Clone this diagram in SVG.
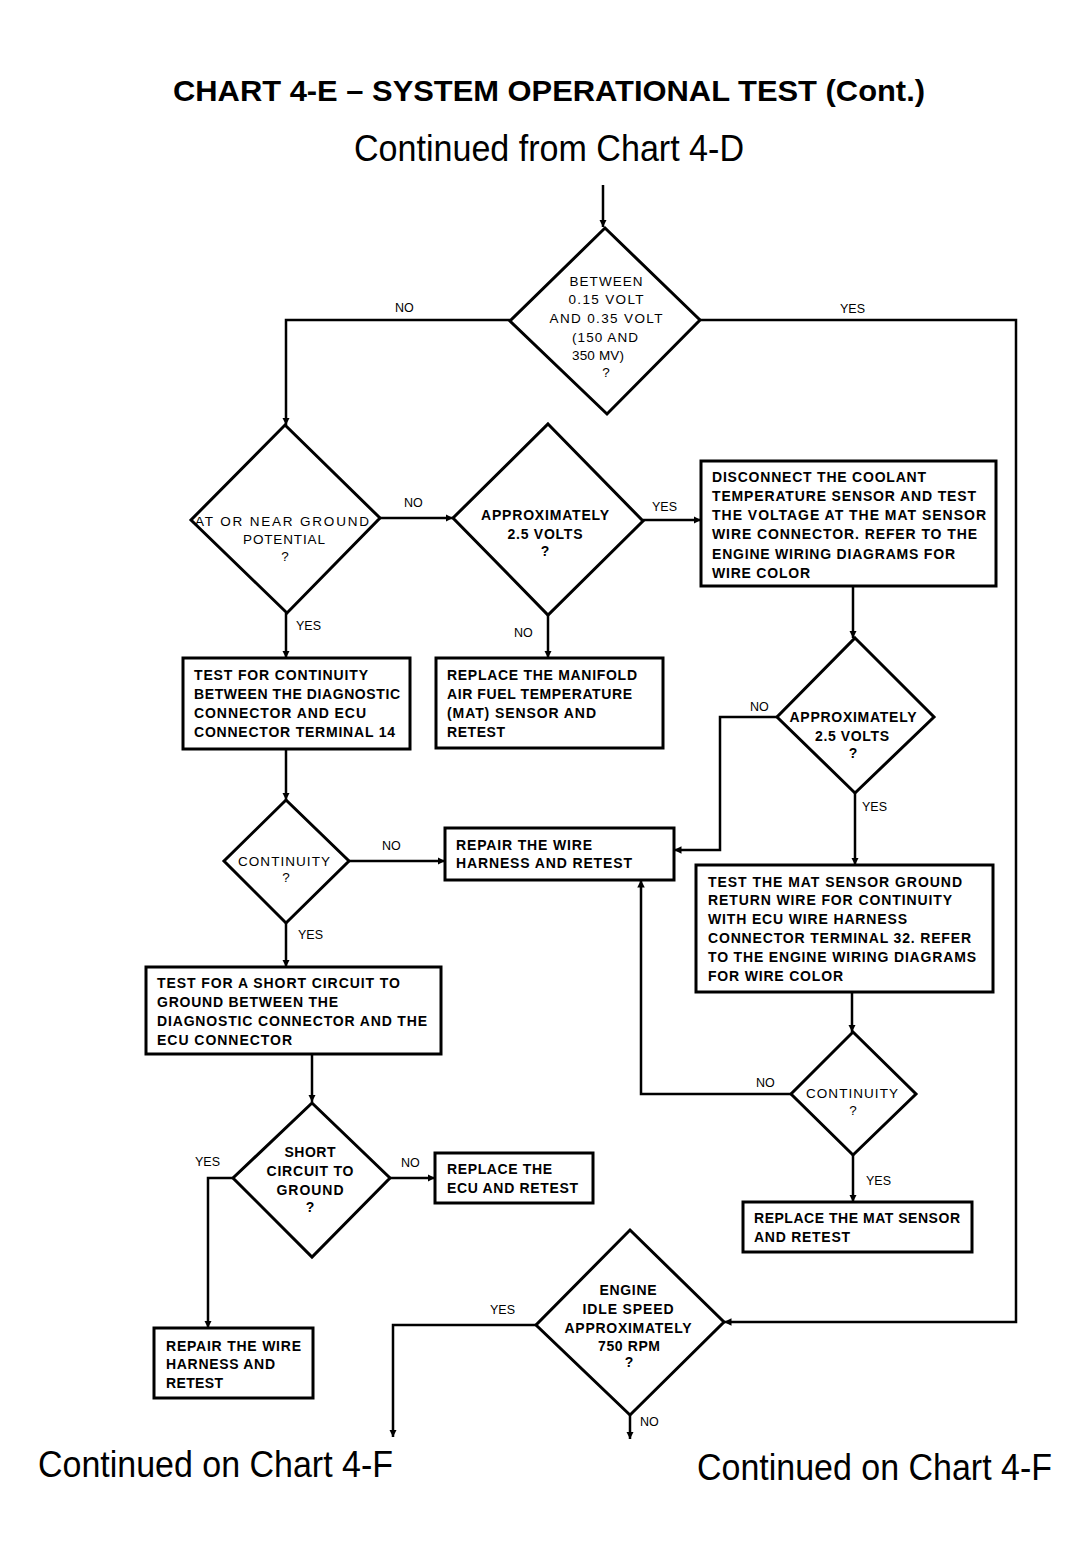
<svg xmlns="http://www.w3.org/2000/svg" width="1088" height="1556" viewBox="0 0 1088 1556">
<style>
.bg{fill:#fff}
.box{fill:#fff;stroke:#000;stroke-width:3}
.dia{fill:#fff;stroke:#000;stroke-width:3;stroke-linejoin:miter}
.ln{fill:none;stroke:#000;stroke-width:2.5;marker-end:url(#ah)}
.bt{font-family:"Liberation Sans",Arial,sans-serif;font-size:14px;font-weight:bold;fill:#000}
.dt{font-family:"Liberation Sans",Arial,sans-serif;font-size:13.5px;fill:#000;text-anchor:middle}
.dtb{font-family:"Liberation Sans",Arial,sans-serif;font-size:14px;font-weight:bold;fill:#000;text-anchor:middle}
.lb{font-family:"Liberation Sans",Arial,sans-serif;font-size:12.5px;fill:#000}
.big{font-family:"Liberation Sans",Arial,sans-serif;font-size:36px;fill:#000}
.ttl{font-family:"Liberation Sans",Arial,sans-serif;font-size:30px;font-weight:bold;fill:#000}
</style>
<defs>
<marker id="ah" viewBox="0 0 10 10" refX="10" refY="5" markerWidth="3" markerHeight="3" orient="auto" markerUnits="strokeWidth">
<path d="M0,0 L10,5 L0,10 z" fill="#000"/>
</marker>
</defs>
<rect class="bg" x="0" y="0" width="1088" height="1556"/>

<g id="title">
<text class="ttl" x="173" y="101" textLength="752" lengthAdjust="spacingAndGlyphs">CHART 4-E  –  SYSTEM OPERATIONAL TEST (Cont.)</text>
<text class="big" x="354" y="161" textLength="390" lengthAdjust="spacingAndGlyphs">Continued from Chart 4-D</text>
</g>

<g id="connectors">
<path class="ln" d="M603 185 V227"/>
<path class="ln" d="M510 320 H286 V425"/>
<path class="ln" d="M700 320 H1016 V1322 H724"/>
<path class="ln" d="M380 518 H453"/>
<path class="ln" d="M286 613 V658"/>
<path class="ln" d="M643 520 H701"/>
<path class="ln" d="M548 615 V658"/>
<path class="ln" d="M286 749 V800"/>
<path class="ln" d="M853 586 V638"/>
<path class="ln" d="M777 717 H720 V850 H674"/>
<path class="ln" d="M855 793 V865"/>
<path class="ln" d="M349 861 H445"/>
<path class="ln" d="M286 923 V967"/>
<path class="ln" d="M312 1054 V1102"/>
<path class="ln" d="M233 1178 H208 V1328"/>
<path class="ln" d="M390 1178 H435"/>
<path class="ln" d="M852 992 V1032"/>
<path class="ln" d="M791 1094 H641 V880"/>
<path class="ln" d="M853 1155 V1202"/>
<path class="ln" d="M536 1325 H393 V1437"/>
<path class="ln" d="M630 1415 V1439"/>
<text class="lb" x="395" y="312">NO</text>
<text class="lb" x="840" y="313">YES</text>
<text class="lb" x="404" y="507">NO</text>
<text class="lb" x="296" y="630">YES</text>
<text class="lb" x="652" y="511">YES</text>
<text class="lb" x="514" y="637">NO</text>
<text class="lb" x="750" y="711">NO</text>
<text class="lb" x="862" y="811">YES</text>
<text class="lb" x="382" y="850">NO</text>
<text class="lb" x="298" y="939">YES</text>
<text class="lb" x="195" y="1166">YES</text>
<text class="lb" x="401" y="1167">NO</text>
<text class="lb" x="756" y="1087">NO</text>
<text class="lb" x="866" y="1185">YES</text>
<text class="lb" x="490" y="1314">YES</text>
<text class="lb" x="640" y="1426">NO</text>
</g>

<g id="d1">
<polygon class="dia" points="605,228 700,320 607,414 510,321"/>
<text class="dt" x="606" y="286" textLength="73">BETWEEN</text>
<text class="dt" x="606" y="304" textLength="75">0.15 VOLT</text>
<text class="dt" x="606" y="323" textLength="113">AND 0.35 VOLT</text>
<text class="dt" x="605" y="342" textLength="66">(150 AND</text>
<text class="dt" x="598" y="360" textLength="52">350 MV)</text>
<text class="dt" x="606" y="377">?</text>
</g>

<g id="d2">
<polygon class="dia" points="285,425 380,518 287,613 191,520"/>
<text class="dt" x="282" y="526" textLength="174">AT OR NEAR GROUND</text>
<text class="dt" x="284" y="544" textLength="82">POTENTIAL</text>
<text class="dt" x="285" y="561">?</text>
</g>

<g id="d3">
<polygon class="dia" points="548,424 643,521 548,615 453,518"/>
<text class="dtb" x="545" y="520" textLength="128">APPROXIMATELY</text>
<text class="dtb" x="545" y="539" textLength="75">2.5 VOLTS</text>
<text class="dtb" x="545" y="556">?</text>
</g>

<g id="b_disconnect">
<rect class="box" x="701" y="461" width="295" height="125"/>
<text class="bt" x="712" y="482" textLength="214">DISCONNECT THE COOLANT</text>
<text class="bt" x="712" y="501" textLength="264">TEMPERATURE SENSOR AND TEST</text>
<text class="bt" x="712" y="520" textLength="274">THE VOLTAGE AT THE MAT SENSOR</text>
<text class="bt" x="712" y="539" textLength="265">WIRE CONNECTOR. REFER TO THE</text>
<text class="bt" x="712" y="559" textLength="243">ENGINE WIRING DIAGRAMS FOR</text>
<text class="bt" x="712" y="578" textLength="98">WIRE COLOR</text>
</g>

<g id="b_test_cont">
<rect class="box" x="183" y="658" width="227" height="91"/>
<text class="bt" x="194" y="680" textLength="174">TEST FOR CONTINUITY</text>
<text class="bt" x="194" y="699" textLength="206">BETWEEN THE DIAGNOSTIC</text>
<text class="bt" x="194" y="718" textLength="172">CONNECTOR AND ECU</text>
<text class="bt" x="194" y="737" textLength="201">CONNECTOR TERMINAL 14</text>
</g>

<g id="b_replace_mat_manifold">
<rect class="box" x="436" y="658" width="227" height="90"/>
<text class="bt" x="447" y="680" textLength="190">REPLACE THE MANIFOLD</text>
<text class="bt" x="447" y="699" textLength="185">AIR FUEL TEMPERATURE</text>
<text class="bt" x="447" y="718" textLength="149">(MAT) SENSOR AND</text>
<text class="bt" x="447" y="737" textLength="58">RETEST</text>
</g>

<g id="d4">
<polygon class="dia" points="855,638 934,717 855,793 777,717"/>
<text class="dtb" x="853" y="722" textLength="127">APPROXIMATELY</text>
<text class="dtb" x="852" y="741" textLength="74">2.5 VOLTS</text>
<text class="dtb" x="853" y="758">?</text>
</g>

<g id="d_cont1">
<polygon class="dia" points="286,800 349,861 286,923 224,861"/>
<text class="dt" x="284" y="866" textLength="92">CONTINUITY</text>
<text class="dt" x="286" y="882">?</text>
</g>

<g id="b_repair1">
<rect class="box" x="445" y="828" width="229" height="52"/>
<text class="bt" x="456" y="850" textLength="136">REPAIR THE WIRE</text>
<text class="bt" x="456" y="868" textLength="176">HARNESS AND RETEST</text>
</g>

<g id="b_test_mat_ground">
<rect class="box" x="696" y="865" width="297" height="127"/>
<text class="bt" x="708" y="887" textLength="254">TEST THE MAT SENSOR GROUND</text>
<text class="bt" x="708" y="905" textLength="244">RETURN WIRE FOR CONTINUITY</text>
<text class="bt" x="708" y="924" textLength="199">WITH ECU WIRE HARNESS</text>
<text class="bt" x="708" y="943" textLength="263">CONNECTOR TERMINAL 32. REFER</text>
<text class="bt" x="708" y="962" textLength="268">TO THE ENGINE WIRING DIAGRAMS</text>
<text class="bt" x="708" y="981" textLength="135">FOR WIRE COLOR</text>
</g>

<g id="b_test_short">
<rect class="box" x="146" y="967" width="295" height="87"/>
<text class="bt" x="157" y="988" textLength="243">TEST FOR A SHORT CIRCUIT TO</text>
<text class="bt" x="157" y="1007" textLength="181">GROUND BETWEEN THE</text>
<text class="bt" x="157" y="1026" textLength="270">DIAGNOSTIC CONNECTOR AND THE</text>
<text class="bt" x="157" y="1045" textLength="135">ECU CONNECTOR</text>
</g>

<g id="d_cont2">
<polygon class="dia" points="853,1032 916,1094 853,1155 791,1094"/>
<text class="dt" x="852" y="1098" textLength="92">CONTINUITY</text>
<text class="dt" x="853" y="1115">?</text>
</g>

<g id="d_short">
<polygon class="dia" points="312,1103 390,1178 312,1257 233,1178"/>
<text class="dtb" x="310" y="1157" textLength="51">SHORT</text>
<text class="dtb" x="310" y="1176" textLength="87">CIRCUIT TO</text>
<text class="dtb" x="310" y="1195" textLength="67">GROUND</text>
<text class="dtb" x="310" y="1212">?</text>
</g>

<g id="b_replace_ecu">
<rect class="box" x="435" y="1153" width="158" height="50"/>
<text class="bt" x="447" y="1174" textLength="105">REPLACE THE</text>
<text class="bt" x="447" y="1193" textLength="131">ECU AND RETEST</text>
</g>

<g id="b_replace_mat">
<rect class="box" x="743" y="1202" width="229" height="50"/>
<text class="bt" x="754" y="1223" textLength="206">REPLACE THE MAT SENSOR</text>
<text class="bt" x="754" y="1242" textLength="96">AND RETEST</text>
</g>

<g id="b_repair2">
<rect class="box" x="154" y="1328" width="159" height="70"/>
<text class="bt" x="166" y="1351" textLength="135">REPAIR THE WIRE</text>
<text class="bt" x="166" y="1369" textLength="109">HARNESS AND</text>
<text class="bt" x="166" y="1388" textLength="57">RETEST</text>
</g>

<g id="d_engine">
<polygon class="dia" points="630,1230 724,1322 630,1415 536,1325"/>
<text class="dtb" x="628" y="1295" textLength="57">ENGINE</text>
<text class="dtb" x="628" y="1314" textLength="91">IDLE SPEED</text>
<text class="dtb" x="628" y="1333" textLength="127">APPROXIMATELY</text>
<text class="dtb" x="629" y="1351" textLength="62">750 RPM</text>
<text class="dtb" x="629" y="1367">?</text>
</g>

<g id="footer">
<text class="big" x="38" y="1477" textLength="355" lengthAdjust="spacingAndGlyphs">Continued on Chart 4-F</text>
<text class="big" x="697" y="1480" textLength="355" lengthAdjust="spacingAndGlyphs">Continued on Chart 4-F</text>
</g>
</svg>
